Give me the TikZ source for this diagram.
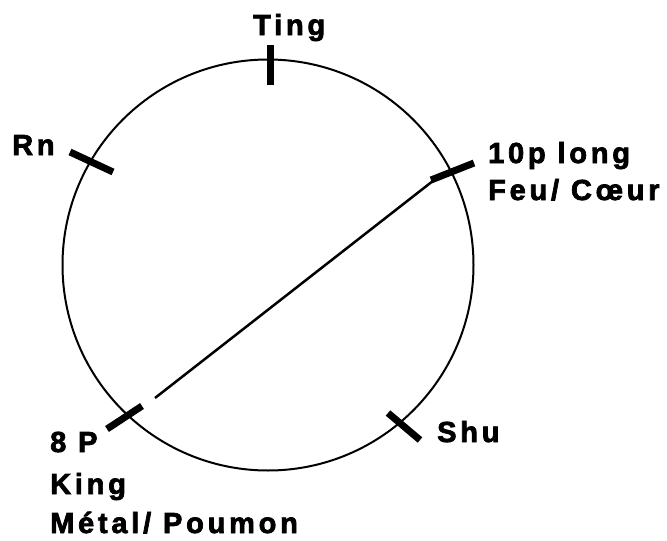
\documentclass[tikz,border=0pt]{standalone}
\usepackage{fontspec}
\newfontfamily\lblfont{Liberation Sans}[LetterSpace=13, BoldFont={Liberation Sans Bold}, BoldFeatures={LetterSpace=13, FakeBold=2.5}]
\begin{document}
\begin{tikzpicture}[x=1pt,y=-1pt,
  lbl/.style={anchor=base west, inner sep=0pt, font=\lblfont\bfseries\fontsize{29}{29}\selectfont},
  tickmark/.style={line width=7pt},
  rim/.style={circle, draw, inner sep=0pt, minimum size=411pt, line width=2pt},
  chord/.style={line width=2.5pt}]
\useasboundingbox (0,0) rectangle (667,541);
\fill[white] (0,0) rectangle (667,541);
\node[rim] (ring) at (268,265) {};
% ticks
\coordinate (ta) at (270,45);  \coordinate (tb) at (270,85);
\coordinate (ra) at (70,152);  \coordinate (rb) at (113,172);
\coordinate (la) at (431,180); \coordinate (lb) at (474,163);
\coordinate (pa) at (107,429); \coordinate (pb) at (142,406);
\coordinate (sa) at (388,413); \coordinate (sb) at (420,440);
\draw[tickmark] (ta) -- (tb);
\draw[tickmark] (ra) -- (rb);
\draw[tickmark] (la) -- (lb);
\draw[tickmark] (pa) -- (pb);
\draw[tickmark] (sa) -- (sb);
% chord
\coordinate (c1) at (155,398); \coordinate (c2) at (438,177);
\draw[chord] (c1) -- (c2);
% labels
\node[lbl] (ting) at (253,35) {Ting};
\node[lbl] (rn) at (12,155) {Rn};
\node[lbl] (long) at (488,163) {10p long};
\node[lbl] (feu) at (488,200) {Feu/ Cœur};
\node[lbl] (shu) at (437,442) {Shu};
\node[lbl] (ep) at (50,452) {8 P};
\node[lbl] (king) at (50,494) {King};
\node[lbl] (metal) at (50,533) {Métal/ Poumon};
\end{tikzpicture}
\end{document}
